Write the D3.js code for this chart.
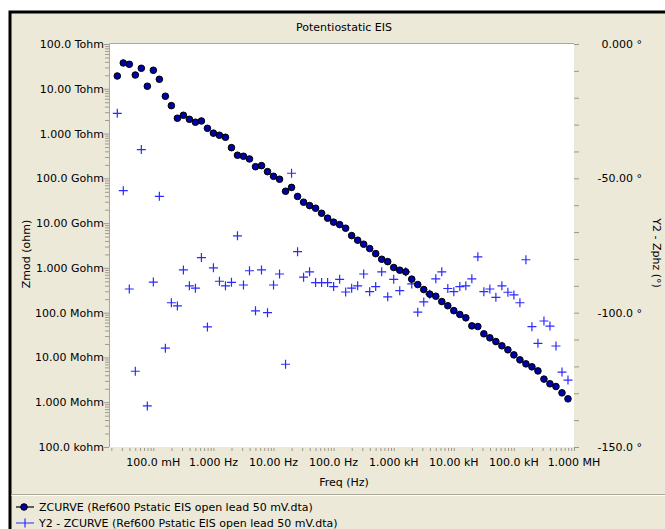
<!DOCTYPE html>
<html>
<head>
<meta charset="utf-8">
<script src="https://cdn.jsdelivr.net/npm/d3@7/dist/d3.min.js"></script>
<style>
  html, body { margin: 0; padding: 0; background: #ffffff; }
  svg { display: block; }
  text { font-family: "DejaVu Sans", sans-serif; font-size: 11px; fill: #000; }
</style>
</head>
<body>
<svg id="chart" width="665" height="529"></svg>
<script>
// ---------------- data ----------------
const title = "Potentiostatic EIS";
const xTitle = "Freq (Hz)";
const yTitle = "Zmod (ohm)";
const y2Title = "Y2 - Zphz (°)";

// frequencies (Hz), ascending
const freq = [
  0.02512, 0.03162, 0.03981, 0.05012, 0.06310, 0.07943,
  0.1, 0.1259, 0.1585, 0.1995, 0.2512, 0.3162, 0.3981, 0.5012, 0.6310, 0.7943,
  1, 1.259, 1.585, 1.995, 2.512, 3.162, 3.981, 5.012, 6.310, 7.943,
  10, 12.59, 15.85, 19.95, 25.12, 31.62, 39.81, 50.12, 63.10, 79.43,
  100, 125.9, 158.5, 199.5, 251.2, 316.2, 398.1, 501.2, 631.0, 794.3,
  1000, 1259, 1585, 1995, 2512, 3162, 3981, 5012, 6310, 7943,
  10000, 12590, 15850, 19950, 25120, 31620, 39810, 50120, 63100, 79430,
  100000, 125900, 158500, 199500, 251200, 316200, 398100, 501200, 631000, 794300
];

// |Z| (ohm)
const zmod = [
  1.93e13, 3.77e13, 3.52e13, 2.03e13, 2.87e13, 1.14e13,
  2.59e13, 1.63e13, 6.81e12, 4.20e12, 2.20e12, 2.56e12, 2.08e12, 1.79e12, 1.91e12, 1.31e12,
  1.02e12, 9.16e11, 8.26e11, 4.84e11, 3.28e11, 3.11e11, 2.71e11, 1.82e11, 1.92e11, 1.41e11,
  1.11e11, 9.55e10, 5.15e10, 6.27e10, 3.94e10, 2.93e10, 2.46e10, 2.15e10, 1.66e10, 1.29e10,
  1.05e10, 9.27e9, 7.69e9, 5.26e9, 4.15e9, 3.38e9, 2.70e9, 2.08e9, 1.56e9, 1.38e9,
  1.02e9, 8.89e8, 8.15e8, 5.60e8, 4.24e8, 3.28e8, 2.59e8, 2.33e8, 1.77e8, 1.43e8,
  1.11e8, 9.12e7, 7.66e7, 5.07e7, 4.90e7, 3.37e7, 2.74e7, 2.26e7, 1.82e7, 1.48e7,
  1.14e7, 8.83e6, 7.19e6, 6.17e6, 5.00e6, 3.28e6, 2.58e6, 2.24e6, 1.62e6, 1.19e6
];

// phase (degrees)
const zphz = [
  -25.8, -54.6, -91.2, -121.8, -39.3, -134.7,
  -88.6, -56.7, -113.2, -96.3, -97.5, -84.1, -90.0, -90.9, -79.5, -105.3,
  -83.3, -88.3, -90.0, -88.7, -71.4, -89.7, -84.4, -99.3, -84.1, -100.0,
  -89.7, -85.6, -119.2, -48.1, -77.3, -86.8, -84.8, -88.8, -88.8, -88.8,
  -90.3, -87.6, -92.3, -90.9, -90.0, -85.6, -92.2, -90.3, -84.8, -94.1,
  -87.6, -91.8, -84.8, -89.3, -99.8, -96.0, -93.1, -87.4, -84.8, -91.0,
  -92.2, -90.3, -90.0, -87.4, -79.2, -92.2, -91.2, -94.3, -90.0, -92.4,
  -93.4, -96.3, -80.3, -105.2, -111.4, -103.1, -105.0, -112.4, -122.1, -125.1
];

const xTickValues = [0.1, 1, 10, 100, 1e3, 1e4, 1e5, 1e6];
const xTickLabels = ["100.0 mH", "1.000 Hz", "10.00 Hz", "100.0 Hz", "1.000 kH", "10.00 kH", "100.0 kH", "1.000 MH"];
const yTickValues = [1e5, 1e6, 1e7, 1e8, 1e9, 1e10, 1e11, 1e12, 1e13, 1e14];
const yTickLabels = ["100.0 kohm", "1.000 Mohm", "10.00 Mohm", "100.0 Mohm", "1.000 Gohm", "10.00 Gohm", "100.0 Gohm", "1.000 Tohm", "10.00 Tohm", "100.0 Tohm"];
const y2TickValues = [0, -50, -100, -150];
const y2TickLabels = ["0.000 °", "-50.00 °", "-100.0 °", "-150.0 °"];

const legendLabels = [
  "ZCURVE (Ref600 Pstatic EIS open lead 50 mV.dta)",
  "Y2 - ZCURVE (Ref600 Pstatic EIS open lead 50 mV.dta)"
];

// ---------------- layout ----------------
const W = 665, H = 529;
const plot = { left: 110, right: 574, top: 44, bottom: 447 };
const bg = "#ECE9D8";
const tickGray = "#9d9a8c";

const svg = d3.select("#chart");

// frame
svg.append("rect").attr("x", 10).attr("y", 12).attr("width", W).attr("height", H)
  .attr("fill", bg).attr("stroke", "#000").attr("stroke-width", 3);
// separator above legend
svg.append("line").attr("x1", 11.5).attr("x2", W).attr("y1", 494.5).attr("y2", 494.5).attr("stroke", "#aca899");
svg.append("line").attr("x1", 11.5).attr("x2", W).attr("y1", 495.5).attr("y2", 495.5).attr("stroke", "#ffffff");

// plot area
svg.append("rect").attr("x", plot.left).attr("y", plot.top)
  .attr("width", plot.right - plot.left).attr("height", plot.bottom - plot.top)
  .attr("fill", "#fff");
svg.append("path")
  .attr("d", `M${plot.left - 0.5},${plot.bottom}V${plot.top - 0.5}H${plot.right}`)
  .attr("fill", "none").attr("stroke", "#aca899");

// scales
const x = d3.scaleLog().domain([0.019, 1e6]).range([plot.left, plot.right]);
const y = d3.scaleLog().domain([1e5, 1e14]).range([plot.bottom, plot.top]);
const y2 = d3.scaleLinear().domain([-150, 0]).range([plot.bottom, plot.top]);

// minor tick helpers
function logMinor(lo, hi) {
  const out = [];
  for (let e = Math.floor(Math.log10(lo)); e <= Math.ceil(Math.log10(hi)); e++) {
    for (let m = 1; m <= 9; m++) {
      const v = m * Math.pow(10, e);
      if (v >= lo * 0.9999 && v <= hi * 1.0001) out.push(v);
    }
  }
  return out;
}

// X axis
const xAll = logMinor(0.019, 1e6);
const xAxis = d3.axisBottom(x).tickValues(xAll).tickSize(3).tickFormat("");
const gx = svg.append("g").attr("transform", `translate(0,${plot.bottom + 1})`).call(xAxis);
gx.select(".domain").remove();
gx.selectAll(".tick line").attr("stroke", tickGray);
svg.append("g").selectAll("text").data(xTickValues).join("text")
  .attr("x", d => x(d)).attr("y", 466).attr("text-anchor", "middle")
  .text((d, i) => xTickLabels[i]);

// Y axis (left)
const yAll = logMinor(1e5, 1e14);
const yAxis = d3.axisLeft(y).tickValues(yAll).tickSize(4).tickFormat("");
const gy = svg.append("g").attr("transform", `translate(${plot.left - 1},0)`).call(yAxis);
gy.select(".domain").remove();
gy.selectAll(".tick line").attr("stroke", tickGray)
  .attr("x2", d => yTickValues.some(v => Math.abs(v - d) / v < 1e-6) ? -5 : -4);
svg.append("g").selectAll("text").data(yTickValues).join("text")
  .attr("x", 104).attr("y", d => y(d)).attr("dy", "0.36em").attr("text-anchor", "end")
  .text((d, i) => yTickLabels[i]);

// Y2 axis (right)
const y2Axis = d3.axisRight(y2).tickValues(d3.range(-150, 1, 10)).tickSize(5).tickFormat("");
const gy2 = svg.append("g").attr("transform", `translate(${plot.right},0)`).call(y2Axis);
gy2.select(".domain").remove();
gy2.selectAll(".tick line").attr("stroke", tickGray);
svg.append("g").selectAll("text").data(y2TickValues).join("text")
  .attr("x", 642).attr("y", d => y2(d)).attr("dy", "0.36em").attr("text-anchor", "end")
  .text((d, i) => y2TickLabels[i]);

// titles
svg.append("text").attr("x", 344).attr("y", 31).attr("text-anchor", "middle").text(title);
svg.append("text").attr("x", 344).attr("y", 486).attr("text-anchor", "middle").text(xTitle);
svg.append("text").attr("transform", "translate(29.5,254) rotate(-90)").attr("text-anchor", "middle").text(yTitle);
svg.append("text").attr("transform", "translate(653,253) rotate(90)").attr("text-anchor", "middle").text(y2Title);

// data
const pts = freq.map((f, i) => ({ f, z: zmod[i], p: zphz[i] }));
const crossColor = "#2b2bff";
const dotFill = "#0000a8";

// phase crosses
svg.append("g").selectAll("path").data(pts).join("path")
  .attr("d", d => `M${x(d.f) - 4.5},${y2(d.p)}h9M${x(d.f)},${y2(d.p) - 4.5}v9`)
  .attr("stroke", crossColor).attr("stroke-width", 1.2).attr("fill", "none");

// Zmod dots
svg.append("g").selectAll("circle").data(pts).join("circle")
  .attr("cx", d => x(d.f)).attr("cy", d => y(d.z)).attr("r", 3.3)
  .attr("fill", dotFill).attr("stroke", "#000").attr("stroke-width", 1);

// legend
const lg = svg.append("g");
lg.append("line").attr("x1", 16).attr("x2", 34).attr("y1", 507).attr("y2", 507).attr("stroke", "#000").attr("stroke-width", 1.2);
lg.append("circle").attr("cx", 24).attr("cy", 507).attr("r", 3.3).attr("fill", dotFill).attr("stroke", "#000");
lg.append("text").attr("x", 39).attr("y", 511).text(legendLabels[0]);
lg.append("path").attr("d", "M16,523H34M25,518.5v9").attr("stroke", crossColor).attr("stroke-width", 1.2).attr("fill", "none");
lg.append("text").attr("x", 39).attr("y", 527).text(legendLabels[1]);
</script>
</body>
</html>
